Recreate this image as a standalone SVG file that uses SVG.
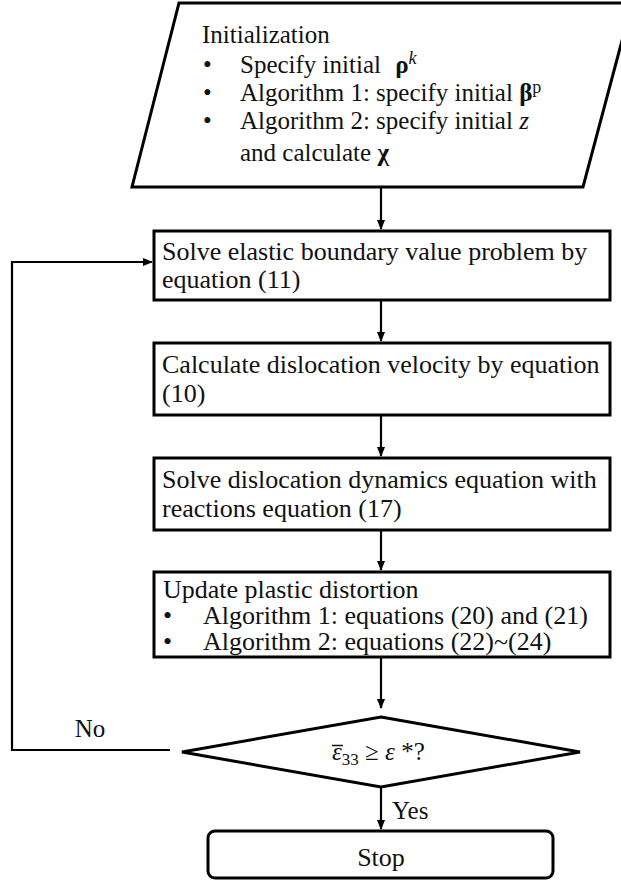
<svg xmlns="http://www.w3.org/2000/svg" width="621" height="881" viewBox="0 0 621 881">
<style>
.t{font-family:"Liberation Serif","Times New Roman",serif;font-size:25px;fill:#111}
.bt{font-size:26px}
.shape{fill:#fff;stroke:#000;stroke-width:3}
.conn{fill:none;stroke:#000;stroke-width:2.2}
.b{font-weight:bold}
.i{font-style:italic}
</style>
<defs>
<marker id="ah" markerWidth="10" markerHeight="10" refX="9" refY="5" orient="auto" markerUnits="userSpaceOnUse">
<path d="M0,1 L10,5 L0,9 Z" fill="#000"/>
</marker>
</defs>
<rect width="621" height="881" fill="#fff"/>
<g id="init">
<polygon class="shape" points="179,3 632,3 583,187 132,187"/>
<text class="t" x="202" y="43">Initialization</text>
<text class="t" x="203" y="73">•</text>
<text class="t" x="240" y="73">Specify initial <tspan dx="8" class="b">ρ</tspan><tspan class="i" dy="-9" font-size="18">k</tspan></text>
<text class="t" x="203" y="101">•</text>
<text class="t" x="240" y="101">Algorithm 1: specify initial <tspan class="b">β</tspan><tspan dy="-8" font-size="18">p</tspan></text>
<text class="t" x="203" y="129">•</text>
<text class="t" x="240" y="129">Algorithm 2: specify initial <tspan class="i">z</tspan></text>
<text class="t" x="240" y="161">and calculate <tspan class="b">χ</tspan></text>
</g>
<g id="solve_elastic">
<rect class="shape" x="154" y="231" width="456" height="69"/>
<text class="t bt" x="162" y="260">Solve elastic boundary value problem by</text>
<text class="t bt" x="162" y="288">equation (11)</text>
</g>
<g id="velocity">
<rect class="shape" x="154" y="343" width="456" height="72"/>
<text class="t bt" x="162" y="373">Calculate dislocation velocity by equation</text>
<text class="t bt" x="162" y="402">(10)</text>
</g>
<g id="dynamics">
<rect class="shape" x="154" y="458" width="456" height="72"/>
<text class="t bt" x="162" y="488">Solve dislocation dynamics equation with</text>
<text class="t bt" x="162" y="517">reactions equation (17)</text>
</g>
<g id="update">
<rect class="shape" x="154" y="572" width="456" height="85"/>
<text class="t bt" x="163" y="598">Update plastic distortion</text>
<text class="t bt" x="163" y="624">•</text>
<text class="t bt" x="203" y="624">Algorithm 1: equations (20) and (21)</text>
<text class="t bt" x="163" y="650">•</text>
<text class="t bt" x="203" y="650">Algorithm 2: equations (22)~(24)</text>
</g>
<g id="decision">
<polygon class="shape" points="381,717 580,752 381,787 182,752"/>
<line x1="332" y1="745.5" x2="343" y2="745.5" stroke="#111" stroke-width="1.5"/>
<text class="t" x="332" y="760"><tspan class="i">ε</tspan><tspan font-size="17" dy="5">33</tspan><tspan dy="-5"> ≥ </tspan><tspan class="i">ε</tspan> *?</text>
</g>
<g id="stop">
<rect class="shape" x="208" y="831" width="345" height="47" rx="7"/>
<text class="t bt" x="381" y="866" text-anchor="middle">Stop</text>
</g>
<g id="connectors">
<line class="conn" x1="381" y1="188" x2="381" y2="229" marker-end="url(#ah)"/>
<line class="conn" x1="381" y1="301" x2="381" y2="341" marker-end="url(#ah)"/>
<line class="conn" x1="381" y1="416" x2="381" y2="456" marker-end="url(#ah)"/>
<line class="conn" x1="381" y1="531" x2="381" y2="570" marker-end="url(#ah)"/>
<line class="conn" x1="381" y1="658" x2="381" y2="708" marker-end="url(#ah)"/>
<line class="conn" x1="381" y1="788" x2="381" y2="829" marker-end="url(#ah)"/>
<polyline class="conn" points="170,750 12,750 12,262 152,262" marker-end="url(#ah)"/>
<text class="t" x="90" y="737" text-anchor="middle">No</text>
<text class="t" x="392" y="819">Yes</text>
</g>
</svg>
